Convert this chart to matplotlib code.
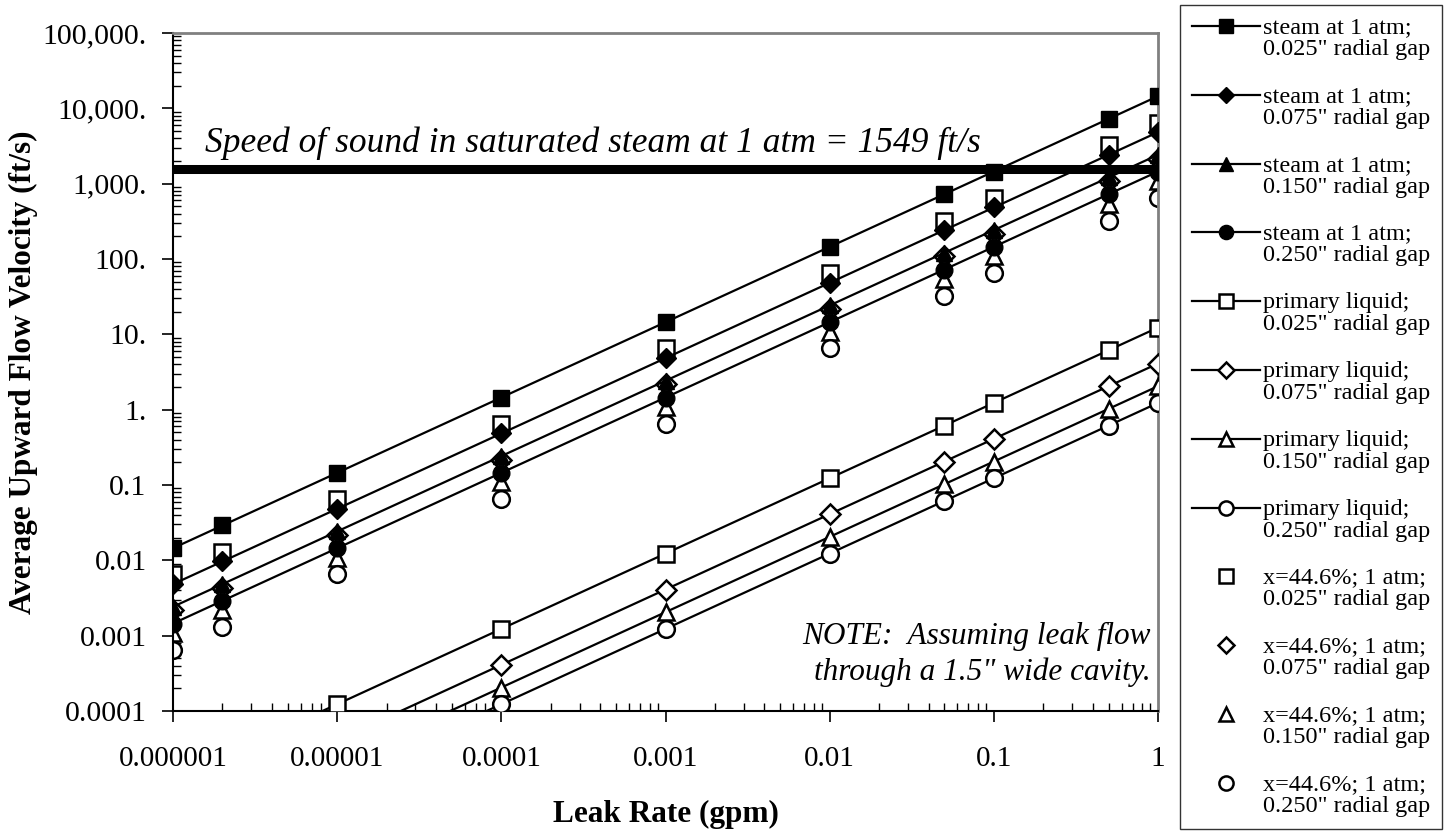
import matplotlib
matplotlib.use('Agg')
import matplotlib.pyplot as plt
from matplotlib.ticker import LogLocator, NullFormatter
from matplotlib.legend_handler import HandlerLine2D

plt.rcParams['font.family'] = ['Liberation Serif', 'DejaVu Serif']

# leak rate points (gpm)
leak = [1e-6, 2e-6, 1e-5, 1e-4, 1e-3, 1e-2, 5e-2, 1e-1, 5e-1, 1]

# steam at 1 atm
steam_025 = [0.0145, 0.029, 0.145, 1.45, 14.5, 145, 725, 1450, 7250, 14500]
steam_075 = [0.00483, 0.00966, 0.0483, 0.483, 4.83, 48.3, 242, 483, 2415, 4830]
steam_150 = [0.00242, 0.00483, 0.0242, 0.242, 2.42, 24.2, 121, 242, 1208, 2415]
steam_250 = [0.00145, 0.0029, 0.0145, 0.145, 1.45, 14.5, 72.5, 145, 725, 1450]

# primary liquid
liq_025 = [1.23e-5, 2.46e-5, 1.23e-4, 0.00123, 0.0123, 0.123, 0.615, 1.23, 6.15, 12.3]
liq_075 = [4.1e-6, 8.2e-6, 4.1e-5, 4.1e-4, 0.0041, 0.041, 0.205, 0.41, 2.05, 4.1]
liq_150 = [2.05e-6, 4.1e-6, 2.05e-5, 2.05e-4, 0.00205, 0.0205, 0.1025, 0.205, 1.025, 2.05]
liq_250 = [1.23e-6, 2.46e-6, 1.23e-5, 1.23e-4, 0.00123, 0.0123, 0.0615, 0.123, 0.615, 1.23]

# two-phase x=44.6%
mix_025 = [0.0065, 0.013, 0.065, 0.65, 6.5, 65, 323, 647, 3230, 6470]
mix_075 = [0.00216, 0.00431, 0.0216, 0.216, 2.16, 21.6, 108, 216, 1078, 2157]
mix_150 = [0.00108, 0.00216, 0.0108, 0.108, 1.08, 10.8, 54, 108, 539, 1078]
mix_250 = [0.00065, 0.0013, 0.0065, 0.065, 0.65, 6.5, 32.3, 64.7, 323, 647]

speed_of_sound = 1549

gaps = ['0.025', '0.075', '0.150', '0.250']
markers = ['s', 'D', '^', 'o']
msizes = [12, 10, 12, 12]


# legend handle aligned with the first line of a two-line label
class FirstLineHandler(HandlerLine2D):
    def __init__(self, shift, **kw):
        super().__init__(**kw)
        self.shift = shift

    def create_artists(self, legend, orig_handle, xdescent, ydescent, width, height, fontsize, trans):
        arts = super().create_artists(legend, orig_handle, xdescent, ydescent,
                                      width, height, fontsize, trans)
        for a in arts:
            a.set_ydata([y + self.shift for y in a.get_ydata()])
        return arts


fig = plt.figure(figsize=(14.46, 8.33), dpi=100)
ax = fig.add_axes([173/1446, 1 - 711/833, (1158-173)/1446, (711-33)/833])

steam = [steam_025, steam_075, steam_150, steam_250]
liq = [liq_025, liq_075, liq_150, liq_250]
mix = [mix_025, mix_075, mix_150, mix_250]

handles = []
for i in range(4):
    h, = ax.plot(leak, steam[i], color='black', lw=1.6, marker=markers[i],
                 ms=msizes[i], mfc='black', mec='black', zorder=4,
                 label='steam at 1 atm;\n' + gaps[i] + '" radial gap')
    handles.append(h)
for i in range(4):
    h, = ax.plot(leak, liq[i], color='black', lw=1.6, marker=markers[i],
                 ms=msizes[i], mfc='white', mec='black', mew=1.8, zorder=3,
                 label='primary liquid;\n' + gaps[i] + '" radial gap')
    handles.append(h)
for i in range(4):
    h, = ax.plot(leak, mix[i], ls='none', marker=markers[i],
                 ms=msizes[i], mfc='white', mec='black', mew=1.8, zorder=2,
                 label='x=44.6%; 1 atm;\n' + gaps[i] + '" radial gap')
    handles.append(h)

# speed of sound line
ax.plot([1e-6, 1], [speed_of_sound, speed_of_sound], color='black', lw=6.5,
        solid_capstyle='round', zorder=5)
ax.text(0.0325, 0.8245, 'Speed of sound in saturated steam at 1 atm = 1549 ft/s',
        transform=ax.transAxes, fontsize=25.5, style='italic', va='baseline', ha='left')
ax.text(0.993, 0.036, 'NOTE:  Assuming leak flow\nthrough a 1.5" wide cavity.',
        transform=ax.transAxes, fontsize=22.5, style='italic', ha='right', va='bottom',
        linespacing=1.25)

ax.set_xscale('log')
ax.set_yscale('log')
ax.set_xlim(1e-6, 1)
ax.set_ylim(1e-4, 1e5)

xt = [1e-6, 1e-5, 1e-4, 1e-3, 1e-2, 1e-1, 1]
xl = ['0.000001', '0.00001', '0.0001', '0.001', '0.01', '0.1', '1']
yt = [1e-4, 1e-3, 1e-2, 1e-1, 1, 10, 100, 1000, 1e4, 1e5]
yl = ['0.0001', '0.001', '0.01', '0.1', '1.', '10.', '100.', '1,000.', '10,000.', '100,000.']
ax.set_xticks(xt)
ax.set_xticklabels(xl, fontsize=21)
ax.set_yticks(yt)
ax.set_yticklabels(yl, fontsize=21.5)
ax.xaxis.set_minor_locator(LogLocator(base=10, subs=range(2, 10), numticks=20))
ax.yaxis.set_minor_locator(LogLocator(base=10, subs=range(2, 10), numticks=20))
ax.xaxis.set_minor_formatter(NullFormatter())
ax.yaxis.set_minor_formatter(NullFormatter())
ax.tick_params(which='major', direction='out', length=8, width=1.2)
ax.tick_params(axis='x', which='major', pad=17)
ax.tick_params(axis='y', which='major', pad=11)
ax.tick_params(which='minor', direction='in', length=6, width=1)

ax.set_xlabel('Leak Rate (gpm)', fontsize=22.5, fontweight='bold', labelpad=20)
ax.set_ylabel('Average Upward Flow Velocity (ft/s)', fontsize=22.5, fontweight='bold', labelpad=3)

for s in ['top', 'right']:
    ax.spines[s].set_color('#808080')
    ax.spines[s].set_linewidth(2)
for s in ['left', 'bottom']:
    ax.spines[s].set_color('black')
    ax.spines[s].set_linewidth(1.5)

leg_fs = 17.5
hmap = {h: FirstLineHandler(shift=leg_fs * 0.5) for h in handles}
leg = fig.legend(handles=handles, loc='upper left', bbox_to_anchor=(1180/1446, 1 - 5/833),
                 fontsize=leg_fs, frameon=True, fancybox=False, edgecolor='black',
                 handlelength=2.8, handletextpad=0.1, labelspacing=1.07,
                 borderpad=0.5, borderaxespad=0, markerscale=0.85, handler_map=hmap)
leg.get_frame().set_linewidth(1)
for t in leg.get_texts():
    t.set_linespacing(1.05)

fig.savefig('out.png', dpi=100)
